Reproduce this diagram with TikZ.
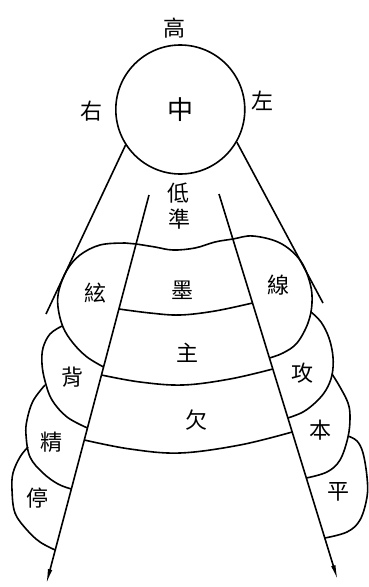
\documentclass[tikz,border=0pt]{standalone}
\usepackage{fontspec}
\newfontfamily\cjk{Noto Sans CJK TC}
\usetikzlibrary{arrows.meta}

\begin{document}
\def\Ancho{368}
\def\Alto{587}
\def\Trazo{1.6pt}

\begin{tikzpicture}[x=1pt,y=-1pt,line width=\Trazo,
  letra/.style={font=\cjk\fontsize{22}{22}\selectfont,inner sep=0pt},
  punta/.style={-{Latex[length=16pt,width=4.5pt]}},
  curva/.style={smooth,tension=0.6}]
  \useasboundingbox (0,0) rectangle (\Ancho,\Alto);
  % --- Circulo ---
  \node[circle,draw,minimum size=129pt,inner sep=0pt,
        font=\cjk\fontsize{26}{26}\selectfont] (zhong) at (180.3,109.5) {中};
  % --- Lineas exteriores ---
  \coordinate (extIzq) at (46,314);
  \coordinate (extDer) at (323,303);
  \draw (zhong.213) -- (extIzq);
  \draw (zhong.330) -- (extDer);
  % --- Lineas interiores ---
  \coordinate (intIzqA) at (149,195);
  \coordinate (intIzqB) at (46,585);
  \coordinate (intDerA) at (219,194);
  \coordinate (intDerB) at (338,581);
  \draw[punta] (intIzqA) -- (intIzqB);
  \draw[punta] (intDerA) -- (intDerB);
  % --- Capa de arriba ---
  \draw plot[curva] coordinates {(103.6,367) (87,357) (73,343) (63,327)
    (58,307) (59,290) (67,270) (80,255) (100,245) (125,243) (136,244)
    (155,247) (173,250) (195,248) (215,242) (233,239) (253,236) (280,243)
    (300,260) (310,283) (312,303) (308,323) (297,343) (283,353) (269.4,358)};
  % --- Lobulos izquierdos ---
  \draw plot[curva] coordinates {(62,326) (50,334) (43,348) (42,364)
    (45,381) (52,400) (67,417) (87.5,428)};
  \draw plot[curva] coordinates {(45,385) (33,401) (27,420) (26,435)
    (30,457) (43,473) (58,484) (71.4,489)};
  \draw plot[curva] coordinates {(28,447) (20,457) (13,473) (12,490)
    (15,513) (27,530) (40,542) (55.2,550)};
  % --- Lobulos derechos ---
  \draw plot[curva] coordinates {(311,312) (321,322) (329,338) (333,357)
    (332,375) (326,390) (316,402) (303,412) (287.9,418)};
  \draw plot[curva] coordinates {(332,374) (340,387) (348,403) (350,417)
    (348,437) (340,460) (327,472) (306.3,478)};
  \draw plot[curva] coordinates {(348,436) (357,441) (363,453) (367,477)
    (367,497) (360,520) (347,532) (324.8,538)};
  % --- Bandas del medio ---
  \draw plot[curva] coordinates {(119,309) (150,313) (180,315) (215,311) (252.5,303)};
  \draw plot[curva] coordinates {(101.5,375) (140,382) (183,385) (230,379) (272.8,369)};
  \draw plot[curva] coordinates {(84.3,440) (130,449) (180,453) (240,445) (292.2,432)};
  % --- Letras ---
  \foreach \x/\y/\t/\n in {%
    174/28/高/gao, 91/111/右/you, 262/101/左/zuo,
    178/193/低/di, 179/219/準/zhun,
    95/293/絃/xianA, 182/290/墨/mo, 278/285/線/xianB,
    72/377/背/bei, 187/353/主/zhu, 302/373/攻/gong,
    52/442/精/jing, 196/420/欠/qian, 320/430/本/ben,
    37/498/停/ting, 338/492/平/ping
  }{
    \node[letra] (\n) at (\x,\y) {\t};
  }
\end{tikzpicture}
\end{document}
